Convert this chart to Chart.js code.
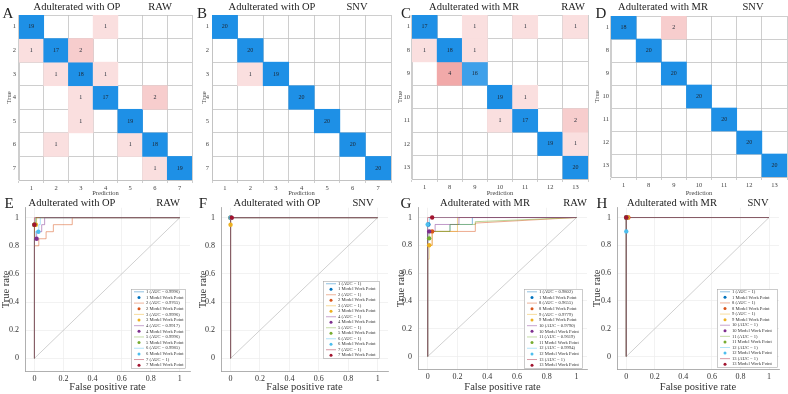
<!DOCTYPE html>
<html>
<head>
<meta charset="utf-8">
<script src="https://cdn.jsdelivr.net/npm/chart.js@4.4.1/dist/chart.umd.min.js"></script>
<style>
  body { margin: 0; background: #fff; }
  #fig { position: relative; width: 788px; height: 394px; overflow: hidden; font-family: 'Liberation Serif', 'Times New Roman', serif; color: #222; }
  #fig canvas { position: absolute; }
  .t { position: absolute; white-space: nowrap; transform: translate(-50%, -50%); line-height: 1; font-size: 10.5px; }
  .lt { position: absolute; white-space: nowrap; transform: translate(-50%, -50%); line-height: 1; font-size: 15px; }
</style>
</head>
<body>
<div id="fig"></div>
<script>
// class labels
const opLabels = ['1', '2', '3', '4', '5', '6', '7'];
const mrLabels = ['1', '8', '9', '10', '11', '12', '13'];

// confusion matrices (rows = true, cols = prediction)
const cmA = [
  [19, 0, 0, 1, 0, 0, 0],
  [1, 17, 2, 0, 0, 0, 0],
  [0, 1, 18, 1, 0, 0, 0],
  [0, 0, 1, 17, 0, 2, 0],
  [0, 0, 1, 0, 19, 0, 0],
  [0, 1, 0, 0, 1, 18, 0],
  [0, 0, 0, 0, 0, 1, 19]
];
const cmB = [
  [20, 0, 0, 0, 0, 0, 0],
  [0, 20, 0, 0, 0, 0, 0],
  [0, 1, 19, 0, 0, 0, 0],
  [0, 0, 0, 20, 0, 0, 0],
  [0, 0, 0, 0, 20, 0, 0],
  [0, 0, 0, 0, 0, 20, 0],
  [0, 0, 0, 0, 0, 0, 20]
];
const cmC = [
  [17, 0, 1, 0, 1, 0, 1],
  [1, 18, 1, 0, 0, 0, 0],
  [0, 4, 16, 0, 0, 0, 0],
  [0, 0, 0, 19, 1, 0, 0],
  [0, 0, 0, 1, 17, 0, 2],
  [0, 0, 0, 0, 0, 19, 1],
  [0, 0, 0, 0, 0, 0, 20]
];
const cmD = [
  [18, 0, 2, 0, 0, 0, 0],
  [0, 20, 0, 0, 0, 0, 0],
  [0, 0, 20, 0, 0, 0, 0],
  [0, 0, 0, 20, 0, 0, 0],
  [0, 0, 0, 0, 20, 0, 0],
  [0, 0, 0, 0, 0, 20, 0],
  [0, 0, 0, 0, 0, 0, 20]
];
const cmTicks = [0.5, 1, 1.5, 2, 2.5, 3, 3.5, 4, 4.5, 5, 5.5, 6, 6.5, 7, 7.5];

// ROC data: AUC text, curves [fpr, tpr], work points
const aucE = ['0.9996', '0.9765', '0.9996', '0.9917', '0.9996', '0.9985', '1'];
const aucF = ['1', '1', '1', '1', '1', '1', '1'];
const aucG = ['0.9802', '0.9655', '0.9779', '0.9790', '0.9619', '0.9994', '1'];
const aucH = ['1', '1', '1', '1', '1', '1', '1'];

const rocE = [
  [[0, 0], [0, 0.95], [0.01, 0.95], [0.01, 1], [1, 1]],
  [[0, 0], [0, 0.8], [0.03, 0.8], [0.03, 0.85], [0.08, 0.85], [0.08, 0.9], [0.13, 0.9], [0.13, 0.95], [0.26, 0.95], [0.26, 1], [1, 1]],
  [[0, 0], [0, 0.95], [0.015, 0.95], [0.015, 1], [1, 1]],
  [[0, 0], [0, 0.85], [0.015, 0.85], [0.015, 0.9], [0.05, 0.9], [0.05, 0.95], [0.07, 0.95], [0.07, 1], [1, 1]],
  [[0, 0], [0, 0.95], [0.01, 0.95], [0.01, 1], [1, 1]],
  [[0, 0], [0, 0.85], [0.005, 0.85], [0.005, 0.9], [0.03, 0.9], [0.03, 0.95], [0.04, 0.95], [0.04, 1], [1, 1]],
  [[0, 0], [0, 1], [1, 1]]
];
const workE = [[0, 0.95], [0, 0.95], [0.01, 0.95], [0.015, 0.85], [0, 0.95], [0.027, 0.9], [0, 0.95]];

const rocF = [
  [[0, 0], [0, 1], [1, 1]],
  [[0, 0], [0, 1], [1, 1]],
  [[0, 0], [0, 1], [1, 1]],
  [[0, 0], [0, 1], [1, 1]],
  [[0, 0], [0, 1], [1, 1]],
  [[0, 0], [0, 1], [1, 1]],
  [[0, 0], [0, 1], [1, 1]]
];
const workF = [[0, 1], [0, 1], [0, 0.95], [0.005, 1], [0, 1], [0, 1], [0.008, 1]];

const rocG = [
  [[0, 0], [0, 0.9], [0.15, 0.9], [0.15, 0.95], [0.3, 0.95], [0.3, 1], [1, 1]],
  [[0, 0], [0, 0.8], [0.03, 0.8], [0.03, 0.9], [0.32, 0.9], [0.32, 0.96], [1, 1]],
  [[0, 0], [0, 0.7], [0.01, 0.7], [0.01, 0.8], [0.03, 0.8], [0.03, 0.9], [0.2, 0.9], [0.2, 1], [1, 1]],
  [[0, 0], [0, 0.9], [0.05, 0.9], [0.05, 0.95], [0.21, 0.95], [0.21, 1], [1, 1]],
  [[0, 0], [0, 0.85], [0.01, 0.85], [0.01, 0.9], [0.15, 0.9], [0.15, 0.95], [0.32, 0.95], [0.32, 0.97], [1, 1]],
  [[0, 0], [0, 0.95], [0.012, 0.95], [0.012, 1], [1, 1]],
  [[0, 0], [0, 1], [1, 1]]
];
const workG = [[0.005, 0.95], [0.03, 0.9], [0.01, 0.8], [0.01, 0.9], [0.01, 0.85], [0, 0.95], [0.03, 1]];

const rocH = [
  [[0, 0], [0, 1], [1, 1]],
  [[0, 0], [0, 1], [1, 1]],
  [[0, 0], [0, 1], [1, 1]],
  [[0, 0], [0, 1], [1, 1]],
  [[0, 0], [0, 1], [1, 1]],
  [[0, 0], [0, 1], [1, 1]],
  [[0, 0], [0, 1], [1, 1]]
];
const workH = [[0, 1], [0.015, 1], [0.01, 1], [0, 1], [0, 1], [0, 0.9], [0, 1]];

const diagLine = [[0, 0], [1, 1]];
const rocTicks = [0, 0.2, 0.4, 0.6, 0.8, 1];
const rocColors = ['#0072BD', '#D95319', '#EDB120', '#7E2F8E', '#77AC30', '#4DBEEE', '#A2142F'];

Chart.defaults.font.family = "'Liberation Serif', 'Times New Roman', serif";
Chart.defaults.color = '#333';
Chart.defaults.animation = false;
Chart.defaults.plugins.legend.display = false;
Chart.defaults.plugins.tooltip.enabled = false;

const fig = document.getElementById('fig');

function makeCanvas(left, top, w, h) {
  const c = document.createElement('canvas');
  c.width = w; c.height = h;
  c.style.left = left + 'px'; c.style.top = top + 'px';
  c.style.width = w + 'px'; c.style.height = h + 'px';
  fig.appendChild(c);
  return c;
}

function addText(txt, x, y, cls) {
  const d = document.createElement('div');
  d.className = cls;
  d.textContent = txt;
  d.style.left = x + 'px'; d.style.top = y + 'px';
  fig.appendChild(d);
}

function mix(c, t) {
  return 'rgb(' + c.map(v => Math.round(255 - (255 - v) * t)).join(',') + ')';
}
function cellColor(v, diag) {
  if (!v) return 'rgba(0,0,0,0)';
  return diag ? mix([30, 144, 230], Math.min(1, (v - 10) / 7))
              : mix([225, 75, 75], Math.min(1, 0.08 + 0.1 * v));
}
function fade(hex, a) {
  const n = parseInt(hex.slice(1), 16);
  return `rgba(${n >> 16},${(n >> 8) & 255},${n & 255},${a})`;
}
const toXY = arr => arr.map(p => ({ x: p[0], y: p[1] }));

// numbers inside the matrix cells
const cellText = {
  id: 'cellText',
  afterDatasetsDraw(chart) {
    const ctx = chart.ctx;
    ctx.save();
    ctx.font = "6px 'Liberation Serif'";
    ctx.fillStyle = '#1d2733';
    ctx.textAlign = 'center';
    ctx.textBaseline = 'middle';
    chart.data.datasets.forEach((ds, i) => {
      chart.getDatasetMeta(i).data.forEach((bar, j) => {
        const v = ds.counts[j];
        if (!v) return;
        ctx.fillText(String(v), bar.x, (bar.y + bar.base) / 2);
      });
    });
    ctx.restore();
  }
};

// boxed legend in lower right of ROC plots
const rocLegend = {
  id: 'rocLegend',
  afterDraw(chart, args, o) {
    const { ctx, chartArea: a } = chart;
    const items = chart.data.datasets.filter(d => !d.noLegend);
    const x0 = a.right - o.dr - o.w, y0 = a.bottom - o.db - o.h;
    const rh = o.h / items.length;
    ctx.save();
    ctx.fillStyle = '#fff';
    ctx.fillRect(x0, y0, o.w, o.h);
    ctx.strokeStyle = '#a8a8a8';
    ctx.lineWidth = 0.6;
    ctx.strokeRect(x0 + 0.5, y0 + 0.5, o.w, o.h);
    ctx.font = "4.6px 'Liberation Serif'";
    ctx.textBaseline = 'middle';
    items.forEach((d, k) => {
      const cy = y0 + rh * (k + 0.5);
      if (d.kind === 'line') {
        ctx.strokeStyle = d.borderColor;
        ctx.lineWidth = 0.8;
        ctx.beginPath(); ctx.moveTo(x0 + 3, cy); ctx.lineTo(x0 + 13, cy); ctx.stroke();
      } else {
        ctx.fillStyle = d.backgroundColor;
        ctx.beginPath(); ctx.arc(x0 + 8, cy, 1.5, 0, Math.PI * 2); ctx.fill();
      }
      ctx.fillStyle = '#333';
      ctx.fillText(d.label, x0 + 15, cy);
    });
    ctx.restore();
  }
};

function drawMatrix(p) {
  const c = makeCanvas(p.left, 0, 197, 197);
  const datasets = p.matrix.map((row, i) => ({
    data: row.map(v => v ? [i + 0.5, i + 1.5] : null),
    counts: row,
    backgroundColor: row.map((v, j) => cellColor(v, i === j)),
    borderWidth: 0, barPercentage: 1, categoryPercentage: 1, grouped: false
  }));
  const gridCol = '#c2c2c2';
  new Chart(c, {
    type: 'bar',
    data: { labels: p.labels, datasets },
    options: {
      responsive: false,
      layout: { padding: { top: p.top, right: p.right, left: 0, bottom: 0 } },
      scales: {
        x: {
          z: 1,
          grid: { color: gridCol, lineWidth: 0.8, tickLength: 3, offset: true },
          border: { color: gridCol, width: 0.8 },
          ticks: { font: { size: 6.5 }, padding: 1, maxRotation: 0, autoSkip: false, color: '#444' },
          title: { display: true, text: 'Prediction', font: { size: 6.5 }, padding: 0, color: '#444' },
          afterFit: s => { s.height = p.xH; }
        },
        y: {
          type: 'linear', reverse: true, min: 0.5, max: p.labels.length + 0.5, z: 1,
          afterBuildTicks: s => { s.ticks = cmTicks.map(v => ({ value: v })); },
          grid: { color: ctx => Number.isInteger(ctx.tick.value) ? 'rgba(0,0,0,0)' : gridCol, lineWidth: 0.8, drawTicks: false },
          border: { color: gridCol, width: 0.8 },
          ticks: { font: { size: 6.5 }, padding: p.tickPad, autoSkip: false, color: '#444',
                   callback: v => Number.isInteger(v) ? p.labels[v - 1] : '' },
          title: { display: true, text: 'True', font: { size: 6.5 }, padding: { top: p.titlePad, bottom: 0 }, color: '#444' },
          afterFit: s => { s.width = p.yW; }
        }
      }
    },
    plugins: [cellText]
  });
}

function drawRoc(p) {
  const c = makeCanvas(p.left, 197, 197, 197);
  const datasets = [{
    data: toXY(diagLine), showLine: true, borderColor: '#c4c4c4', borderWidth: 0.8,
    pointRadius: 0, order: 100, noLegend: true
  }];
  p.curves.forEach((curve, i) => {
    datasets.push({
      label: `${p.classes[i]} (AUC = ${p.auc[i]})`, data: toXY(curve), showLine: true,
      borderColor: fade(rocColors[i], 0.55), borderWidth: 0.9, pointRadius: 0, order: 50 - i, kind: 'line'
    });
    datasets.push({
      label: `${p.classes[i]} Model Work Point`, data: toXY([p.work[i]]), showLine: false,
      pointRadius: 2.2, backgroundColor: rocColors[i], borderWidth: 0, order: -i, kind: 'point'
    });
  });
  new Chart(c, {
    type: 'scatter',
    data: { datasets },
    options: {
      responsive: false,
      layout: { padding: { top: p.top, right: p.right, left: 0, bottom: 0 } },
      plugins: { rocLegend: p.legend },
      scales: {
        x: {
          type: 'linear', min: -0.065, max: 1.07,
          afterBuildTicks: s => { s.ticks = rocTicks.map(v => ({ value: v })); },
          grid: { color: '#ececec', lineWidth: 0.7, drawTicks: false },
          border: { color: '#9c9c9c', width: 0.8 },
          ticks: { font: { size: 8 }, padding: 3, maxRotation: 0, autoSkip: false, callback: v => String(v) },
          title: { display: true, text: 'False positive rate', font: { size: 10.5 }, padding: 0 },
          afterFit: s => { s.height = p.xH; }
        },
        y: {
          type: 'linear', min: -0.09, max: 1.07,
          afterBuildTicks: s => { s.ticks = rocTicks.map(v => ({ value: v })); },
          grid: { color: '#ececec', lineWidth: 0.7, drawTicks: false },
          border: { color: '#9c9c9c', width: 0.8 },
          ticks: { font: { size: 8 }, padding: 6, autoSkip: false, callback: v => String(v) },
          title: { display: true, text: 'True rate', font: { size: 10.5 }, padding: { top: p.titlePad, bottom: 0 } },
          afterFit: s => { s.width = p.yW; }
        }
      }
    },
    plugins: [rocLegend]
  });
}

drawMatrix({ left: 0,   matrix: cmA, labels: opLabels, top: 15, right: 5, yW: 19, xH: 17, tickPad: 3, titlePad: 5 });
drawMatrix({ left: 197, matrix: cmB, labels: opLabels, top: 15, right: 3, yW: 15, xH: 17, tickPad: 3, titlePad: 3 });
drawMatrix({ left: 394, matrix: cmC, labels: mrLabels, top: 15, right: 3, yW: 18, xH: 18, tickPad: 2, titlePad: 2 });
drawMatrix({ left: 591, matrix: cmD, labels: mrLabels, top: 16, right: 1, yW: 20, xH: 20, tickPad: 2, titlePad: 2 });

drawRoc({ left: 0,   classes: opLabels, auc: aucE, curves: rocE, work: workE, top: 7,  right: 7, yW: 25, xH: 23, titlePad: 0,
          legend: { dr: 5, db: 3, w: 54, h: 79 } });
drawRoc({ left: 197, classes: opLabels, auc: aucF, curves: rocF, work: workF, top: 6,  right: 6, yW: 24, xH: 23, titlePad: 0,
          legend: { dr: 9, db: 13, w: 56, h: 77 } });
drawRoc({ left: 394, classes: mrLabels, auc: aucG, curves: rocG, work: workG, top: 10, right: 1, yW: 24, xH: 25, titlePad: 1,
          legend: { dr: 5, db: 1, w: 58, h: 79 } });
drawRoc({ left: 591, classes: mrLabels, auc: aucH, curves: rocH, work: workH, top: 9,  right: 9, yW: 26, xH: 25, titlePad: 0,
          legend: { dr: 2, db: 2, w: 60, h: 78 } });

// panel letters and titles
addText('A', 8, 13, 'lt');   addText('Adulterated with OP', 77, 7, 't');  addText('RAW', 160, 7, 't');
addText('B', 202, 13, 'lt'); addText('Adulterated with OP', 272, 7, 't'); addText('SNV', 357, 7, 't');
addText('C', 406, 13, 'lt'); addText('Adulterated with MR', 474, 7, 't'); addText('RAW', 573, 7, 't');
addText('D', 601, 13, 'lt'); addText('Adulterated with MR', 663, 7, 't'); addText('SNV', 753, 7, 't');
addText('E', 9, 203, 'lt');   addText('Adulterated with OP', 72, 203, 't');  addText('RAW', 168, 203, 't');
addText('F', 203, 203, 'lt'); addText('Adulterated with OP', 277, 203, 't'); addText('SNV', 363, 203, 't');
addText('G', 406, 203, 'lt'); addText('Adulterated with MR', 485, 203, 't'); addText('RAW', 575, 203, 't');
addText('H', 602, 203, 'lt'); addText('Adulterated with MR', 672, 203, 't'); addText('SNV', 758, 203, 't');
</script>
</body>
</html>
